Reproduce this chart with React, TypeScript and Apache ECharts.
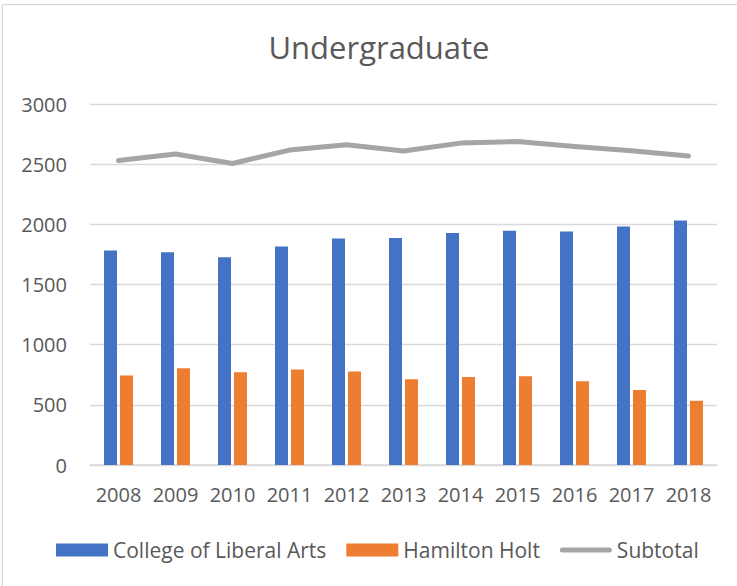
import React, { useEffect, useRef } from "react";
import * as echarts from "echarts";

const years = ["2008", "2009", "2010", "2011", "2012", "2013", "2014", "2015", "2016", "2017", "2018"];
const collegeOfLiberalArts = [1782, 1768, 1727, 1815, 1882, 1887, 1929, 1946, 1940, 1981, 2031];
const hamiltonHolt = [743, 804, 771, 793, 776, 713, 732, 738, 696, 624, 533];
const subtotal = [2531, 2584, 2506, 2617, 2661, 2609, 2675, 2689, 2647, 2611, 2567];

const FONT = "'Open Sans', 'Noto Sans', sans-serif";
const TEXT = "#595959";
const LINE_ICON =
  "path://M0,0 L0.01,0 L0,0.01 Z M0,13 L0.01,13 L0,12.99 Z M2.5,4 H49.5 A2.5,2.5 0 0 1 49.5,9 H2.5 A2.5,2.5 0 0 1 2.5,4 Z";

export default function App() {
  const ref = useRef<HTMLDivElement>(null);
  useEffect(() => {
    if (!ref.current) return;
    const chart = echarts.init(ref.current, null, { renderer: "svg" });
    chart.setOption({
      animation: false,
      backgroundColor: "#ffffff",
      title: {
        text: "Undergraduate",
        left: 374,
        top: 26,
        textAlign: "center",
        textStyle: { fontFamily: FONT, fontSize: 31, fontWeight: "normal", color: TEXT },
      },
      graphic: [
        {
          type: "rect",
          silent: true,
          shape: { x: 2.3, y: 4.7, width: 900, height: 900 },
          style: { fill: "none", stroke: "#d9d9d9", lineWidth: 1.3 },
        },
      ],
      grid: { left: 90, right: 20, top: 104, bottom: 121 },
      legend: {
        left: 56,
        top: 538,
        padding: 0,
        itemWidth: 52,
        itemHeight: 13,
        itemGap: 20,
        textStyle: { fontFamily: FONT, fontSize: 21, color: TEXT, lineHeight: 24 },
        data: [
          { name: "College of Liberal Arts", icon: "rect" },
          { name: "Hamilton Holt", icon: "rect" },
          { name: "Subtotal", icon: LINE_ICON, itemStyle: { color: "#A5A5A5" } },
        ],
      },
      xAxis: {
        type: "category",
        data: years,
        axisTick: { show: false },
        axisLine: { lineStyle: { color: "#d9d9d9", width: 1.5 } },
        axisLabel: { fontFamily: FONT, fontSize: 20, color: TEXT, margin: 19, interval: 0 },
      },
      yAxis: {
        type: "value",
        min: 0,
        max: 3000,
        interval: 500,
        axisLine: { show: false },
        axisTick: { show: false },
        splitLine: { lineStyle: { color: "#d9d9d9", width: 1.3 } },
        axisLabel: {
          fontFamily: FONT,
          fontSize: 20,
          color: TEXT,
          margin: 23,
          formatter: (v: number) => String(v),
        },
      },
      series: [
        {
          name: "College of Liberal Arts",
          type: "bar",
          data: collegeOfLiberalArts,
          barWidth: 13,
          barGap: "23%",
          itemStyle: { color: "#4472C4" },
        },
        {
          name: "Hamilton Holt",
          type: "bar",
          data: hamiltonHolt,
          barWidth: 13,
          barGap: "23%",
          itemStyle: { color: "#ED7D31" },
        },
        {
          name: "Subtotal",
          type: "line",
          data: subtotal,
          symbol: "none",
          showSymbol: false,
          lineStyle: { color: "#A5A5A5", width: 5, cap: "round", join: "round" },
          itemStyle: { color: "#A5A5A5" },
        },
      ],
    });
    return () => chart.dispose();
  }, []);
  return (
    <div
      ref={ref}
      style={{ position: "fixed", left: 0, top: 0, width: 737, height: 586 }}
    />
  );
}
